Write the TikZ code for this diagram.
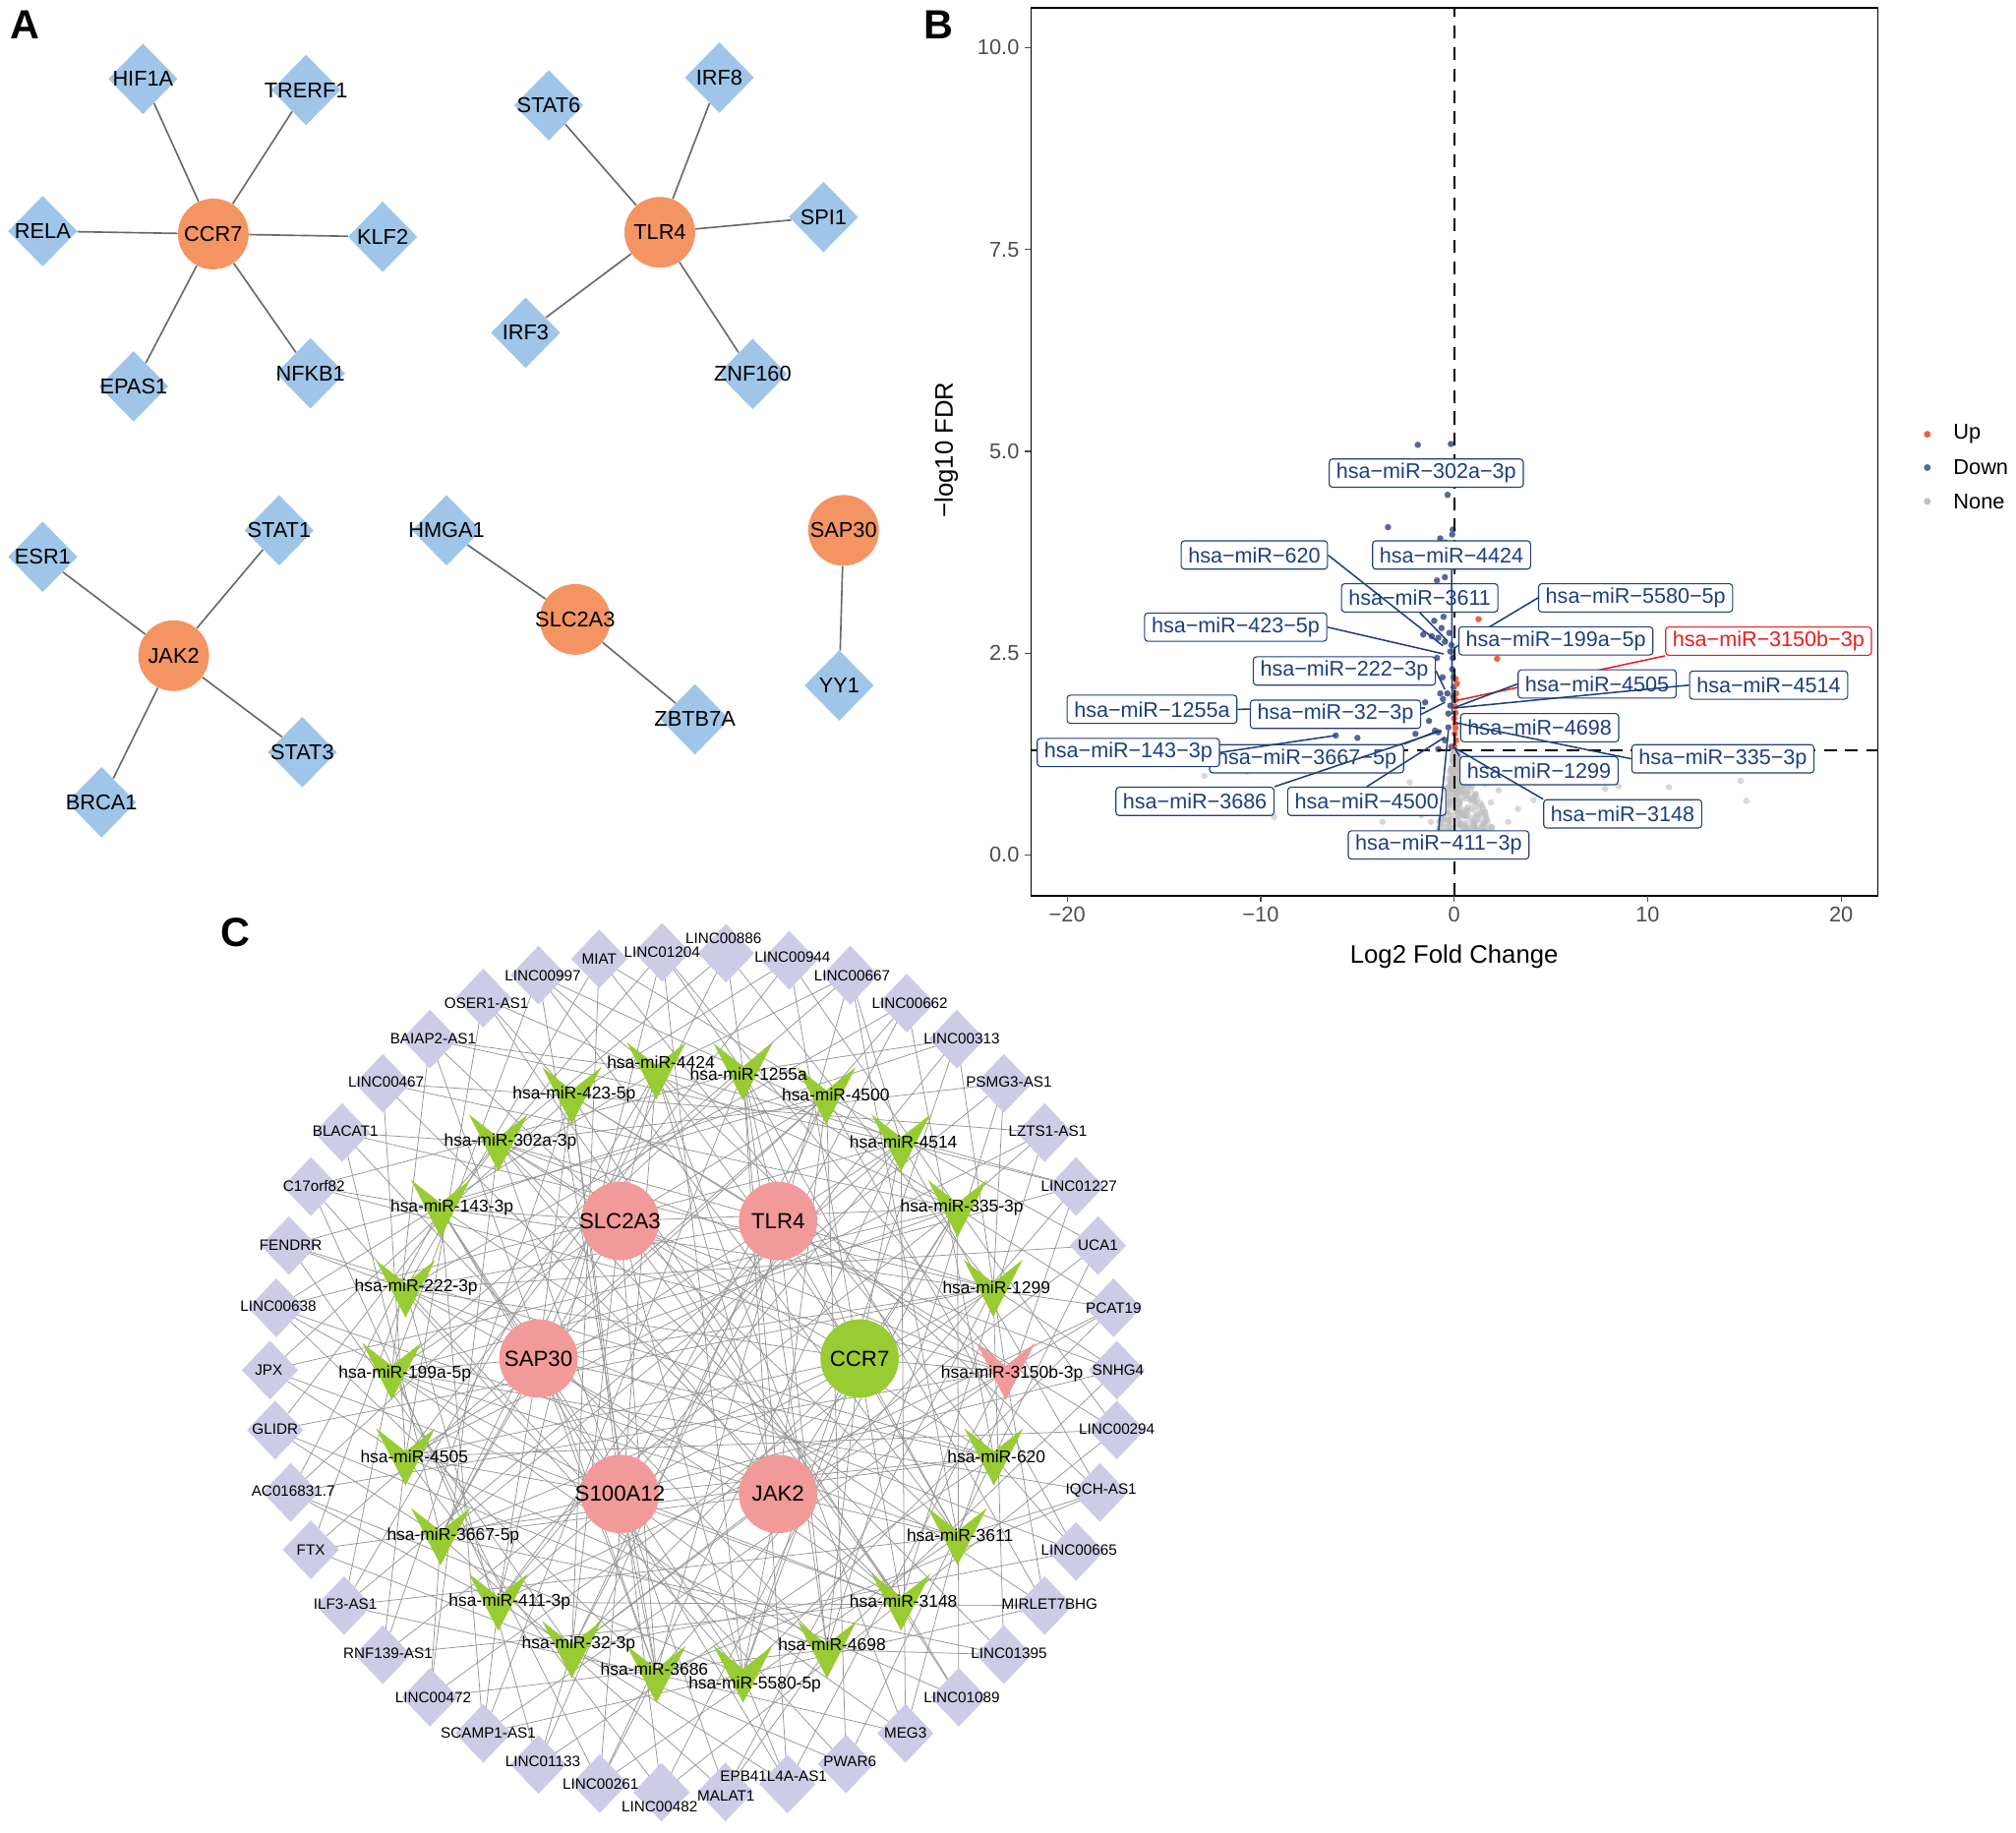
\documentclass[tikz,border=0pt]{standalone}
\usepackage{fontspec}
\setmainfont{Liberation Sans}
\usetikzlibrary{shapes.geometric}

\definecolor{tfblue}{RGB}{159,197,232}
\definecolor{hubor}{RGB}{244,148,98}
\definecolor{lncpurple}{RGB}{204,204,230}
\definecolor{mirgreen}{RGB}{153,204,51}
\definecolor{hubpink}{RGB}{242,153,153}
\definecolor{upred}{RGB}{233,99,67}
\definecolor{downblue}{RGB}{88,103,153}
\definecolor{nonegrey}{RGB}{190,190,190}
\definecolor{lblnavy}{RGB}{29,63,128}
\definecolor{lblred}{RGB}{235,28,28}
\definecolor{axgrey}{RGB}{77,77,77}
\definecolor{edgegreyA}{RGB}{105,105,105}
\definecolor{cedgegrey}{RGB}{150,150,150}

\pgfdeclarelayer{edgelayer}
\pgfdeclarelayer{seglayer}
\pgfsetlayers{edgelayer,seglayer,main}

% lncRNA nodes: index / x / y / label dx / label dy / name
\def\lnclist{
    1/375.9/776.3/2.4/3.9/OSER1-AS1, 2/418.8/758.5/3.4/0.8/LINC00997, 3/466.1/745.8/0/0/MIAT,
    4/515/740.7/0/0/LINC01204, 5/564.7/741.4/-2/-11.4/LINC00886, 6/613.9/747/2.5/-2.5/LINC00944,
    7/661.3/758.5/1.4/0.5/LINC00667, 8/705.2/780.2/2.4/0/LINC00662, 9/744.2/808.2/3.9/0/LINC00313,
    10/780.8/842.6/3.9/-1.3/PSMG3-AS1, 11/812.5/880.9/2.4/-0.8/LZTS1-AS1, 12/836.9/922.9/2.4/-0.5/LINC01227,
    13/854/968.8/0/0/UCA1, 14/866.1/1017.2/0/0/PCAT19, 15/868.6/1065.7/1/0/SNHG4,
    16/868.6/1112.3/0/-0.7/LINC00294, 17/855.4/1160.8/1/-1.3/IQCH-AS1, 18/836.9/1206.7/2.4/-1.3/LINC00665,
    19/812.5/1248.8/3.9/-0.8/MIRLET7BHG, 20/780.8/1287/3.9/-0.8/LINC01395, 21/745.7/1320.1/2.4/0/LINC01089,
    22/704.2/1348.2/0/0/MEG3, 23/658/1372/3/-1.8/PWAR6, 24/612.5/1387.7/-10.8/-6.3/EPB41L4A-AS1,
    25/564.2/1393.8/0.5/3.4/MALAT1, 26/514.5/1394/-1.5/11.3/LINC00482, 27/466.4/1387.3/0.7/0/LINC00261,
    28/418.8/1372.4/3.4/-2/LINC01133, 29/375.9/1348.2/3.9/0/SCAMP1-AS1, 30/334.4/1320.1/2.5/0/LINC00472,
    31/297.8/1287/3.9/-0.8/RNF139-AS1, 32/267.6/1248.8/1/-1.3/ILF3-AS1, 33/241.8/1205.4/0/0/FTX,
    34/226.1/1160.8/2/-1.3/AC016831.7, 35/214/1112.3/0/-0.7/GLIDR, 36/210/1065.7/-1/0/JPX,
    37/214.9/1017.2/1.5/-1.2/LINC00638, 38/224.7/968.8/1.4/0/FENDRR, 39/241.8/922.9/2.4/-0.5/C17orf82,
    40/266.1/880.9/2.5/-1.3/BLACAT1, 41/297.8/842.6/2.5/-1.3/LINC00467, 42/334.4/808.2/2.5/0/BAIAP2-AS1}
% miRNA nodes: index / x / y / label dx / label dy / colour / name
\def\mirlist{
    1/510.5/833/3.5/-7/mirgreen/hsa-miR-4424, 2/577.9/833.7/4.3/2/mirgreen/hsa-miR-1255a,
    3/444.7/852.3/1.9/-0.8/mirgreen/hsa-miR-423-5p, 4/642.7/852.3/7.3/-0.8/mirgreen/hsa-miR-4500,
    5/387.6/889/9.3/-1/mirgreen/hsa-miR-302a-3p, 6/700.8/889/1.9/-1/mirgreen/hsa-miR-4514,
    7/342.7/940/8.8/-0.5/mirgreen/hsa-miR-143-3p, 8/744.7/940/3.4/-0.5/mirgreen/hsa-miR-335-3p,
    9/315.4/1002.5/8.3/-1.1/mirgreen/hsa-miR-222-3p, 10/772.5/1002/2.5/-0.6/mirgreen/hsa-miR-1299,
    11/304.7/1066.7/10.2/2/mirgreen/hsa-miR-199a-5p, 12/782.2/1066.7/4.9/2/hubpink/hsa-miR-3150b-3p,
    13/315.4/1133.2/6.8/-0.5/mirgreen/hsa-miR-4505, 14/773/1133.2/2/-0.5/mirgreen/hsa-miR-620,
    15/342.7/1195.2/9.8/-0.8/mirgreen/hsa-miR-3667-5p, 16/744.7/1195.2/1.9/-0.8/mirgreen/hsa-miR-3611,
    17/387.6/1246.2/8.8/-0.5/mirgreen/hsa-miR-411-3p, 18/700.8/1246.2/1.9/-0.5/mirgreen/hsa-miR-3148,
    19/444.7/1283.2/5.3/-4.4/mirgreen/hsa-miR-32-3p, 20/643.2/1283.2/3.9/-4.4/mirgreen/hsa-miR-4698,
    21/510.5/1302.3/-1.5/-3.8/mirgreen/hsa-miR-3686, 22/577.9/1302.3/9.2/8.2/mirgreen/hsa-miR-5580-5p}

\begin{document}
\begin{tikzpicture}[x=0.6pt,y=-0.6pt,
    panellbl/.style={font=\fontsize{19}{22}\selectfont\bfseries, inner sep=0pt},
    fontA/.style={font=\fontsize{10}{12}\selectfont, inner sep=0pt},
    hubA/.style={circle, fill=hubor, minimum size=33pt, inner sep=0pt, label={[fontA]center:#1}},
    tfA/.style={diamond, fill=tfblue, minimum width=32.4pt, minimum height=33pt, inner sep=0pt, label={[fontA]center:#1}},
    edgeA/.style={draw=edgegreyA, line width=0.75pt},
    lnc/.style={diamond, fill=lncpurple, minimum width=26.4pt, minimum height=27.6pt, inner sep=0pt},
    lnclbl/.style={font=\fontsize{7}{8}\selectfont, inner sep=0pt},
    mir/.style={rectangle, minimum width=27.6pt, minimum height=26.8pt, inner sep=0pt},
    mirlbl/.style={font=\fontsize{8}{9}\selectfont, inner sep=0pt},
    hubC/.style 2 args={circle, fill=#2, minimum size=36.6pt, inner sep=0pt,
      label={[font=\fontsize{10.2}{12}\selectfont, inner sep=0pt]center:#1}},
    cedge/.style={draw=cedgegrey, line width=0.35pt},
    vlbl/.style={draw=lblnavy, text=lblnavy, fill=white, line width=0.5pt, rounded corners=1.5pt,
      font=\fontsize{9.9}{11}\selectfont, inner xsep=3.3pt, inner ysep=0pt, minimum height=13.2pt},
    vlblup/.style={vlbl, draw=lblred, text=lblred},
    vseg/.style={draw=lblnavy, line width=0.7pt},
    vsegup/.style={draw=lblred, line width=0.7pt},
    vline/.style={line width=1pt, dash pattern=on 6pt off 4pt},
    panelframe/.style={line width=0.6pt},
    ticklbl/.style={font=\fontsize{10}{12}\selectfont, text=axgrey, inner sep=0pt},
    axtitle/.style={font=\fontsize{11.8}{14}\selectfont, inner sep=0pt},
    legtxt/.style={font=\fontsize{10}{12}\selectfont, inner sep=0pt, anchor=west}]
\useasboundingbox (0,0) rectangle (1568,1425);

% ---------- A: TF - hub gene networks
\node[panellbl] (labA) at (19.5,19.6) {A};
\node[hubA=CCR7] (ccr7) at (165.9,182) {};
\node[tfA=HIF1A] (hif1a) at (111.2,61.3) {};
\node[tfA=TRERF1] (trerf1) at (238,70) {};
\node[tfA=RELA] (rela) at (33.2,179.8) {};
\node[tfA=KLF2] (klf2) at (297.6,184.2) {};
\node[tfA=EPAS1] (epas1) at (103.9,300.5) {};
\node[tfA=NFKB1] (nfkb1) at (241.5,290.4) {};
\node[hubA=TLR4] (tlr4) at (513.2,180.7) {};
\node[tfA=STAT6] (stat6) at (426.8,81.9) {};
\node[tfA=IRF8] (irf8) at (559.5,60.4) {};
\node[tfA=SPI1] (spi1) at (640.5,168.8) {};
\node[tfA=IRF3] (irf3) at (408.8,258.8) {};
\node[tfA=ZNF160] (znf160) at (585.4,290.9) {};
\node[hubA=JAK2] (jak2) at (135.1,510) {};
\node[tfA=ESR1] (esr1) at (33.2,433.1) {};
\node[tfA=STAT1] (stat1) at (217.1,412.5) {};
\node[tfA=STAT3] (stat3) at (235.1,585) {};
\node[tfA=BRCA1] (brca1) at (79,624) {};
\node[hubA=SLC2A3] (slc2a3) at (447.3,481.8) {};
\node[tfA=HMGA1] (hmga1) at (347.3,412.5) {};
\node[tfA=ZBTB7A] (zbtb7a) at (540.5,559.5) {};
\node[hubA=SAP30] (sap30) at (656.1,412.5) {};
\node[tfA=YY1] (yy1) at (652.7,533.2) {};
\begin{pgfonlayer}{edgelayer}
  \foreach \t in {hif1a,trerf1,rela,klf2,epas1,nfkb1} \draw[edgeA] (ccr7) -- (\t);
  \foreach \t in {stat6,irf8,spi1,irf3,znf160} \draw[edgeA] (tlr4) -- (\t);
  \foreach \t in {esr1,stat1,stat3,brca1} \draw[edgeA] (jak2) -- (\t);
  \foreach \t in {hmga1,zbtb7a} \draw[edgeA] (slc2a3) -- (\t);
  \draw[edgeA] (sap30) -- (yy1);
\end{pgfonlayer}

% ---------- B: volcano plot
\node[panellbl] (labB) at (730.2,19.6) {B};
\begin{pgfonlayer}{edgelayer}
\begin{scope}[shift={(1131,665)}, x=9.03pt, y=37.68pt]
  \pgfmathsetseed{42}
  \foreach \i in {1,...,320}{
    \pgfmathsetmacro{\yy}{0.28+1.0*rnd}
    \pgfmathsetmacro{\xx}{(rnd-0.3)*(0.15+2.8*(1.3-\yy))}
    \fill[nonegrey, opacity=0.6] (\xx,\yy) circle (1.5pt);
  }
  \foreach \p in {(-12.9,0.98),(-10.7,1.03),(-9.3,0.47),(-3.7,0.41),(-2.3,0.9),(-1.95,0.65),(-1.7,0.49),
      (-1.2,0.41),(7.8,0.82),(8.5,0.85),(11.1,0.84),(14.8,0.92),(15.1,0.67),(2.8,0.41),(4.1,0.68),
      (3.3,0.57),(2.3,0.8),(1.6,0.88),(1.9,0.65),(1.2,0.49),(2.5,1.1),(3.0,1.12)}
    \fill[nonegrey, opacity=0.6] \p circle (1.5pt);
  \foreach \p in {(-1.88,5.08),(-0.17,5.09),(-0.34,4.46),(-3.42,4.06),(-0.07,4.03),(-0.1,3.97),(-0.72,3.92),
      (-0.45,3.87),(-0.48,3.65),(-0.89,3.4),(-0.48,3.44),(-0.07,3.32),(-1.03,2.9),(-0.65,2.81),(-1.6,2.73),
      (-1.16,2.71),(-0.82,2.69),(-0.48,2.64),(-0.14,2.6),(-0.2,2.52),(-0.07,2.44),(-0.89,2.44),(-0.72,2.0),
      (-0.02,2.2),(-0.02,2.08),(-0.04,1.96),(-0.58,1.93),(-1.5,1.89),(-2.0,1.5),(-1.3,1.66),(-0.99,1.54),
      (-0.82,1.52),(-0.48,1.42),(-0.3,1.58),(-0.14,1.34),(-5.0,1.45),(-6.12,1.48),(-3.1,1.33),(-0.82,1.31),
      (-0.3,1.75),(-0.2,1.85),(-0.1,2.3),(-0.35,2.0),(-0.6,2.2),(-0.25,2.75),(-0.55,2.95)}
    \fill[downblue] \p circle (1.5pt);
  \foreach \p in {(1.26,2.92),(2.22,2.43),(0.07,2.18),(0.14,2.12),(0.07,1.92),(0.03,1.84),(0.07,1.76),
      (0,1.69),(0.07,1.57),(0.03,1.5),(0.1,1.42),(0,1.35),(0.1,2.0),(0.05,1.62)}
    \fill[upred] \p circle (1.5pt);
  \draw[vline] (0,-0.505) -- (0,10.49);
  \draw[vline] (-21.87,1.301) -- (21.9,1.301);
  % label targets
  \coordinate (p620) at (-0.58,2.59);
  \coordinate (p4424) at (-0.1,1.74);
  \coordinate (p3611) at (-0.35,2.65);
  \coordinate (p5580) at (-0.02,2.56);
  \coordinate (p423) at (-0.55,2.49);
  \coordinate (p3150) at (0.07,1.91);
  \coordinate (p222) at (-0.48,2.05);
  \coordinate (p4505) at (-0.05,1.82);
  \coordinate (p4514) at (0,1.82);
  \coordinate (p1255) at (-1.5,1.82);
  \coordinate (p32) at (-0.48,1.89);
  \coordinate (p143) at (-6.12,1.48);
  \coordinate (p3667) at (-0.82,1.54);
  \coordinate (p335) at (0.03,1.64);
  \coordinate (p1299) at (-0.07,1.36);
  \coordinate (p3686) at (-0.65,1.54);
  \coordinate (p4500) at (-0.48,1.46);
  \coordinate (p3148) at (-0.07,1.34);
  \coordinate (p411) at (-0.3,1.54);
\end{scope}
\end{pgfonlayer}
\begin{scope}[shift={(1131,665)}, x=9.03pt, y=37.68pt]
  \draw[panelframe] (-21.87,-0.505) rectangle (21.9,10.49);
  \foreach \v in {0.0,2.5,5.0,7.5,10.0}{
    \draw[panelframe, axgrey] (-21.87,\v) -- ++(-3pt,0);
    \node[ticklbl, anchor=east] (yt\v) at ([xshift=-5.3pt]-21.87,\v) {\v};
  }
  \foreach \v/\t in {-20/−20,-10/−10,0/0,10/10,20/20}{
    \draw[panelframe, axgrey] (\v,-0.505) -- ++(0,-3pt);
    \node[ticklbl, anchor=north] (xt\v) at ([yshift=-5pt]\v,-0.505) {\t};
  }
\end{scope}
\node[axtitle] (xtitle) at (1131,744) {Log2 Fold Change};
\node[axtitle, rotate=90] (ytitle) at (736,350) {−log10 FDR};
% legend
\fill[upred] (1499,337.8) circle (1.6pt);
\fill[downblue] (1499,363.7) circle (1.6pt);
\fill[nonegrey] (1499,390) circle (1.6pt);
\node[legtxt] (legup) at (1519,337.8) {Up};
\node[legtxt] (legdown) at (1519,363.7) {Down};
\node[legtxt] (legnone) at (1519,390) {None};
% labels crossed by other segments
\node[vlbl] (v3611) at (1104.2,465) {hsa−miR−3611};
\node[vlbl] (v199a) at (1210.1,498.5) {hsa−miR−199a−5p};
\node[vlbl] (v4505) at (1242.2,532) {hsa−miR−4505};
\node[vlbl] (v32) at (1038.7,555.6) {hsa−miR−32−3p};
\node[vlbl] (v4698) at (1197.5,566) {hsa−miR−4698};
\node[vlbl] (v3667) at (1016.2,590.2) {hsa−miR−3667−5p};
\node[vlbl] (v1299) at (1197,599.4) {hsa−miR−1299};
\node[vlbl] (v4500) at (1063,623.3) {hsa−miR−4500};
% other labels
\node[vlbl] (v302a) at (1109.3,368) {hsa−miR−302a−3p};
\node[vlbl] (v620) at (975.6,431.7) {hsa−miR−620};
\node[vlbl] (v4424) at (1129,431.7) {hsa−miR−4424};
\node[vlbl] (v5580) at (1272.1,465) {hsa−miR−5580−5p};
\node[vlbl] (v423) at (961.1,487.8) {hsa−miR−423−5p};
\node[vlbl] (v222) at (1045.6,521.9) {hsa−miR−222−3p};
\node[vlblup] (v3150) at (1375.5,498.7) {hsa−miR−3150b−3p};
\node[vlbl] (v4514) at (1375.6,532.9) {hsa−miR−4514};
\node[vlbl] (v1255) at (896,551.7) {hsa−miR−1255a};
\node[vlbl] (v335) at (1340,590.2) {hsa−miR−335−3p};
\node[vlbl] (v143) at (877.6,585.3) {hsa−miR−143−3p};
\node[vlbl] (v3148) at (1262.1,633) {hsa−miR−3148};
\node[vlbl] (v3686) at (929.4,623.3) {hsa−miR−3686};
\node[vlbl] (v411) at (1118.9,657.2) {hsa−miR−411−3p};
\begin{pgfonlayer}{seglayer}
  \draw[vseg] (v5580.west) -- (p5580);
  \draw[vseg] (v423.east) -- (p423);
  \draw[vseg] (v3611.south) -- (p3611);
  \draw[vseg] (v222.east) -- (p222);
  \draw[vsegup] (v3150.south west) -- (p3150);
  \draw[vseg] (v4505.west) -- (p4505);
  \draw[vseg] (v1255.east) -- (p1255);
  \draw[vseg] (v32.east) -- (p32);
  \draw[vseg] (v3667.north east) -- (p3667);
  \draw[vseg] (v1299.north west) -- (p1299);
\end{pgfonlayer}
\draw[vseg] (v620.east) -- (p620);
\draw[vseg] (v4424.south) -- (p4424);
\draw[vseg] (v4514.west) -- (p4514);
\draw[vseg] (v335.west) -- (p335);
\draw[vseg] (v143.east) -- (p143);
\draw[vseg] (v3148.north west) -- (p3148);
\draw[vseg] (v4500.north) -- (p4500);
\draw[vseg] (v3686.north east) -- (p3686);
\draw[vseg] (v411.north) -- (p411);

% ---------- C: ceRNA network
\node[panellbl] (labC) at (183,725.4) {C};
\foreach \i/\x/\y/\dx/\dy/\t in \lnclist
  \node[lnc] (lnc\i) at (\x,\y) {};
\foreach \i/\x/\y/\dx/\dy/\c/\t in \mirlist{
  \fill[\c] (\x,\y) ++(-23,-22.3) -- ++(23,18) -- ++(23,-18) -- ++(-23,44.6) -- cycle;
  \node[mir] (mir\i) at (\x,\y) {};
}
\node[hubC={SLC2A3}{hubpink}] (cslc) at (482.2,949.7) {};
\node[hubC={TLR4}{hubpink}] (ctlr) at (605.2,949.7) {};
\node[hubC={SAP30}{hubpink}] (csap) at (418.8,1056.7) {};
\node[hubC={CCR7}{mirgreen}] (cccr) at (668.6,1056.7) {};
\node[hubC={S100A12}{hubpink}] (cs100) at (482.2,1162) {};
\node[hubC={JAK2}{hubpink}] (cjak) at (605.2,1162) {};
% names on top of all shapes
\foreach \i/\x/\y/\dx/\dy/\t in \lnclist
  \node[lnclbl] (lnct\i) at ([shift={(\dx,\dy)}]lnc\i.center) {\t};
\foreach \i/\x/\y/\dx/\dy/\c/\t in \mirlist
  \node[mirlbl] (mirt\i) at ([shift={(\dx,\dy)}]mir\i.center) {\t};
\begin{pgfonlayer}{edgelayer}
  \foreach \m in {1,...,22}{
    \foreach \l in {1,...,42}{
      \pgfmathtruncatemacro{\k}{mod(\m+2*\l,5)}
      \ifnum\k=0 \draw[cedge] (mir\m.center) -- (lnc\l.center);\fi
    }
    \foreach \h/\hn in {1/cslc,2/ctlr,3/csap,4/cccr,5/cs100,6/cjak}{
      \pgfmathtruncatemacro{\k}{mod(5*\m+3*\h,7)}
      \ifnum\k<4 \draw[cedge] (mir\m.center) -- (\hn.center);\fi
    }
  }
\end{pgfonlayer}
\end{tikzpicture}
\end{document}
